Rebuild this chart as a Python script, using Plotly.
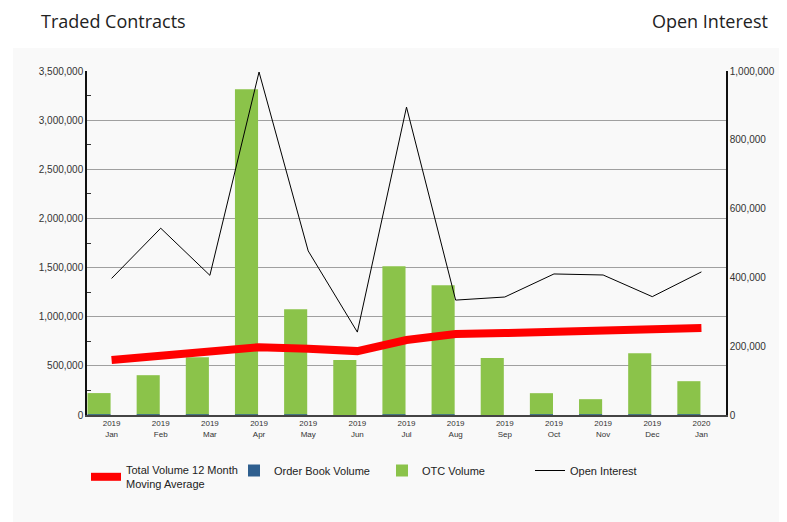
import plotly.graph_objects as go

months = ["2019<br>Jan", "2019<br>Feb", "2019<br>Mar", "2019<br>Apr", "2019<br>May", "2019<br>Jun",
          "2019<br>Jul", "2019<br>Aug", "2019<br>Sep", "2019<br>Oct", "2019<br>Nov", "2019<br>Dec",
          "2020<br>Jan"]
otc_volume = [215000, 397000, 580000, 3307000, 1068000, 560000, 1506000, 1312000, 580000,
              214000, 153000, 620000, 336000]
order_book_volume = [8000, 8000, 8000, 8000, 8000, -12000, 8000, 8000, -12000, 8000, 8000, 8000, 8000]
moving_average = [560000, 605000, 634000, 690000, 675000, 650000, 763000, 824000, 834000,
                  845000, 845000, 875000, 885000]
open_interest = [397000, 543000, 406000, 997000, 477000, 241000, 895000, 334000, 343000,
                 410000, 407000, 344000, 416000]

# page body has an 8px margin: work in screen pixels and shift
OFF = 8
W, H = 787 - OFF, 522 - OFF
L, T = 87 - OFF, 71 - OFF
R = 787 - 726
B = 522 - 415
pw, ph = W - L - R, H - T - B


def px_x(x):
    return (x - OFF - L) / pw


def px_y(y):
    return (H - B - (y - OFF)) / ph


fig = go.Figure()
fig.add_trace(go.Bar(x=months, y=order_book_volume, name="Order Book Volume",
                     marker=dict(color="#2f5f8f", line=dict(width=0)),
                     width=0.47, offset=-0.49, legendrank=2))
fig.add_trace(go.Bar(x=months, y=otc_volume, name="OTC Volume",
                     marker=dict(color="#8bc34a", line=dict(width=0)),
                     width=0.47, offset=-0.49, legendrank=3))
fig.add_trace(go.Scatter(x=months, y=moving_average, mode="lines",
                         name="Total Volume 12 Month<br>Moving Average",
                         line=dict(color="#ff0000", width=8), legendrank=1))
fig.add_trace(go.Scatter(x=months, y=open_interest, mode="lines", name="Open Interest",
                         yaxis="y2", line=dict(color="#000000", width=1), legendrank=4))

fig.update_layout(
    width=W, height=H,
    margin=dict(l=L, r=R, t=T, b=B, autoexpand=False),
    paper_bgcolor="white",
    plot_bgcolor="#f9f9f9",
    barmode="relative",
    font=dict(family="Liberation Sans, Arial, sans-serif", color="#333333"),
    xaxis=dict(range=[-0.5, 12.5], showline=True, linecolor="#444444", linewidth=1.5,
               ticks="", tickfont=dict(size=8), showgrid=False),
    yaxis=dict(range=[0, 3500000], dtick=500000, tickformat=",", showline=True,
               linecolor="#111111", linewidth=1.5, gridcolor="#a0a0a0", gridwidth=1,
               tickfont=dict(size=10), ticks="", zeroline=False,
               minor=dict(dtick=250000, ticks="inside", ticklen=4, tickcolor="#333333",
                          showgrid=False)),
    yaxis2=dict(range=[0, 1000000], dtick=200000, tickformat=",", overlaying="y",
                side="right", showline=True, linecolor="#111111", linewidth=1.5,
                showgrid=False, zeroline=False, tickfont=dict(size=10), ticks=""),
    legend=dict(orientation="h", x=px_x(86), y=px_y(456), xanchor="left", yanchor="top",
                font=dict(size=11, color="#222222"), itemwidth=30,
                entrywidth=103, entrywidthmode="pixels", bgcolor="rgba(0,0,0,0)",
                traceorder="normal"),
    shapes=[dict(type="rect", xref="paper", yref="paper", x0=px_x(13), x1=px_x(800),
                 y0=px_y(530), y1=px_y(48), fillcolor="#f9f9f9", line=dict(width=0),
                 layer="below")],
    annotations=[
        dict(text="Traded Contracts", xref="paper", yref="paper", x=px_x(39), y=px_y(21),
             xanchor="left", yanchor="middle", showarrow=False,
             font=dict(family="Open Sans, sans-serif", size=18, color="#222222")),
        dict(text="Open Interest", xref="paper", yref="paper", x=px_x(770), y=px_y(21),
             xanchor="right", yanchor="middle", showarrow=False,
             font=dict(family="Open Sans, sans-serif", size=18, color="#222222")),
    ],
    showlegend=True,
)

fig.write_html("out.html")
